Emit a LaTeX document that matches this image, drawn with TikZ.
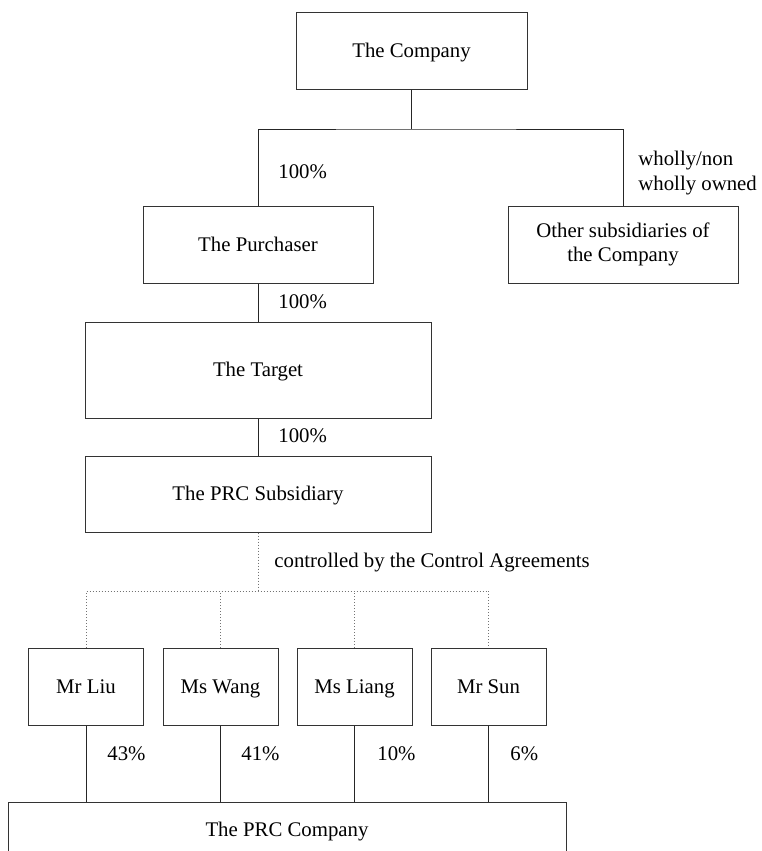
\documentclass[tikz,border=0pt]{standalone}
\usepackage{fontspec}
\setmainfont{Liberation Serif}
\usepackage{tikz}
\tikzset{
    entity/.style={draw=black!80, line width=0.5pt, inner sep=0pt, align=center,
        text height=0.66em, text depth=0pt},
    owns/.style={draw=black!85, line width=0.5pt},
    control/.style={draw=black!55, densely dotted, line width=0.5pt},
    share/.style={anchor=west, inner sep=0pt, align=left}
}

\begin{document}
\begin{tikzpicture}[x=0.5pt, y=-0.5pt, font=\fontsize{10.4}{12.3}\selectfont]
    \useasboundingbox (0,0) rectangle (761,851);
    % group above the target
    \node[entity, minimum width=115.5pt, minimum height=38.5pt] (company) at (411.5,50.5) {The Company};
    \node[entity, minimum width=115pt, minimum height=38.5pt] (purchaser) at (258,244.5) {The Purchaser};
    \node[entity, minimum width=115pt, minimum height=38.5pt, text height={}, text depth={}] (others) at (623,244.5) {Other subsidiaries of\\the Company};
    \node[entity, minimum width=173pt, minimum height=48pt] (target) at (258,370) {The Target};
    \node[entity, minimum width=173pt, minimum height=38pt] (prcsub) at (258,494) {The PRC Subsidiary};
    % registered shareholders
    \node[entity, minimum width=57.5pt, minimum height=38.5pt] (liu) at (86,686.5) {Mr Liu};
    \node[entity, minimum width=57.5pt, minimum height=38.5pt] (wang) at (220.5,686.5) {Ms Wang};
    \node[entity, minimum width=57.5pt, minimum height=38.5pt] (liang) at (354.5,686.5) {Ms Liang};
    \node[entity, minimum width=57.5pt, minimum height=38.5pt] (sun) at (488.5,686.5) {Mr Sun};
    \node[entity, minimum width=279pt, minimum height=28pt] (prc) at (287,830) {The PRC Company};

    \coordinate (split) at (411.5,129);
    \coordinate (ctrl) at (258,591);

    \draw[owns] (company.south) -- (split);
    \draw[owns] (purchaser.north) |- (split) -| (others.north);
    \draw[owns] (purchaser.south) -- (target.north);
    \draw[owns] (target.south) -- (prcsub.north);

    \draw[control] (prcsub.south) -- (ctrl);
    \draw[control] (liu.north) |- (ctrl) -| (sun.north);
    \draw[control] (wang.north) -- (wang.north |- ctrl);
    \draw[control] (liang.north) -- (liang.north |- ctrl);

    \draw[owns] (liu.south) -- (liu.south |- prc.north);
    \draw[owns] (wang.south) -- (wang.south |- prc.north);
    \draw[owns] (liang.south) -- (liang.south |- prc.north);
    \draw[owns] (sun.south) -- (sun.south |- prc.north);

    % holdings
    \node[share] (p1) at (278,172) {100\%};
    \node[share] (p2) at (638,173) {wholly/non\\wholly owned};
    \node[share] (p3) at (278,302) {100\%};
    \node[share] (p4) at (278,436) {100\%};
    \node[share] (p5) at (274,563) {controlled by the Control Agreements};
    \node[share] (p6) at (107,754) {43\%};
    \node[share] (p7) at (241,754) {41\%};
    \node[share] (p8) at (377,754) {10\%};
    \node[share] (p9) at (510,754) {6\%};
\end{tikzpicture}
\end{document}
